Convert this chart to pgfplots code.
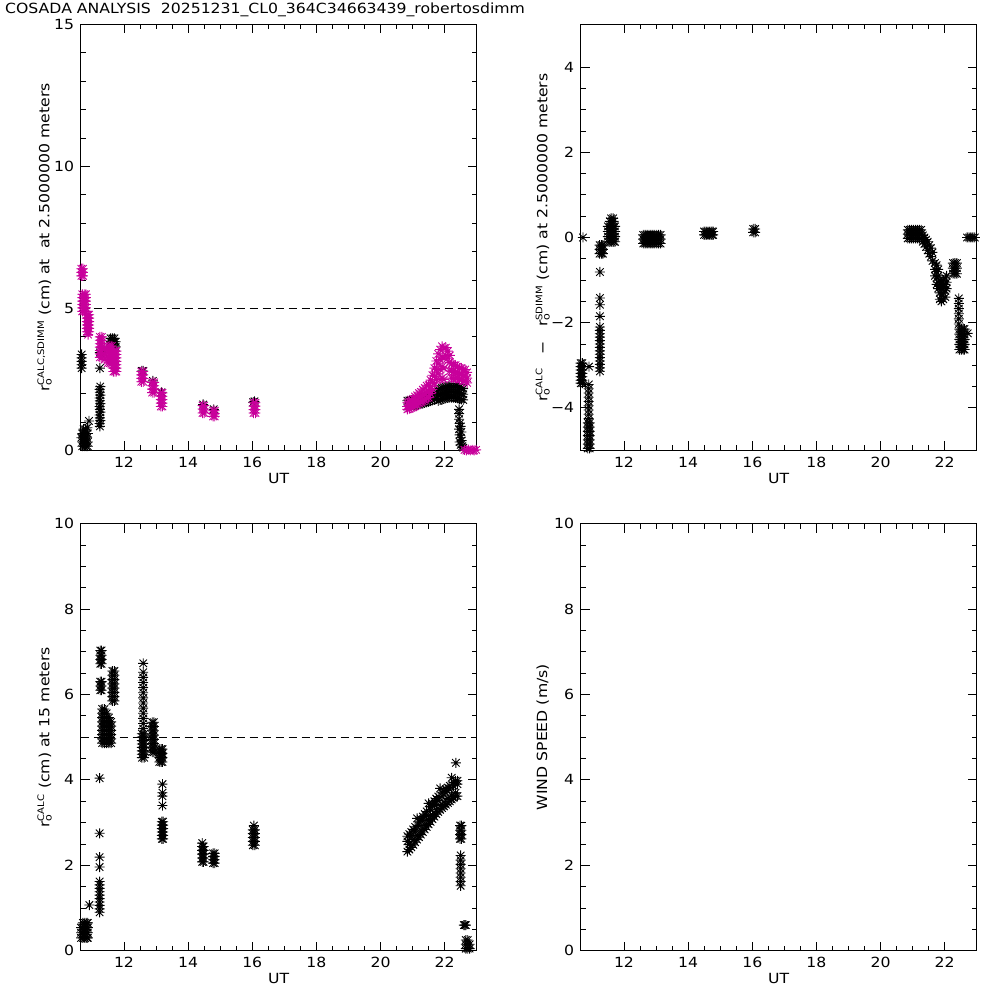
\documentclass[border=0pt]{standalone}
\usepackage{fontspec}
\setmainfont{DejaVu Sans}[FakeStretch=1.12]
\usepackage{pgfplots}
\pgfplotsset{compat=1.18}

\definecolor{cosmag}{HTML}{C8009B}

% IDL style asterisk (psym=2)
\pgfdeclareplotmark{idlast}{%
  \pgfpathmoveto{\pgfqpoint{-\pgfplotmarksize}{0pt}}%
  \pgfpathlineto{\pgfqpoint{\pgfplotmarksize}{0pt}}%
  \pgfpathmoveto{\pgfqpoint{0pt}{-\pgfplotmarksize}}%
  \pgfpathlineto{\pgfqpoint{0pt}{\pgfplotmarksize}}%
  \pgfpathmoveto{\pgfqpoint{-.75\pgfplotmarksize}{-.75\pgfplotmarksize}}%
  \pgfpathlineto{\pgfqpoint{.75\pgfplotmarksize}{.75\pgfplotmarksize}}%
  \pgfpathmoveto{\pgfqpoint{-.75\pgfplotmarksize}{.75\pgfplotmarksize}}%
  \pgfpathlineto{\pgfqpoint{.75\pgfplotmarksize}{-.75\pgfplotmarksize}}%
  \pgfusepathqstroke}

\newcommand{\ro}{r\rlap{\textsubscript{o}}}
\newcommand{\lblfont}{\fontsize{14}{16}\selectfont}
\newcommand{\supsc}[1]{\textsuperscript{\fontsize{9}{10}\selectfont #1}}

\pgfplotsset{
  idl/.style={
    scale only axis, width=396pt, height=426pt,
    xmin=10.65, xmax=23,
    xtick={12,14,...,22}, minor x tick num=3,
    tick align=inside,
    major tick length=9pt, minor tick length=5pt,
    every tick/.style={black, line width=0.8pt},
    axis line style={line width=1pt},
    tick label style={font=\lblfont},
    /pgf/number format/assume math mode=true,
    xticklabel style={yshift=-3pt},
    yticklabel style={xshift=-3pt},
    xlabel={UT},
    every axis x label/.style={at={(axis description cs:0.5,-0.066)}, anchor=center, font=\lblfont},
    every axis y label/.style={at={(axis description cs:-0.091,0.5)}, rotate=90, anchor=center, font=\lblfont},
  },
  idlpts/.style={only marks, mark=idlast, mark size=5pt, line width=0.9pt},
}

\begin{document}
\begin{tikzpicture}
\path[use as bounding box] (0pt,0pt) rectangle (1000pt,1000pt);
\node[anchor=west, inner sep=0pt, font=\lblfont] at (5pt,990pt)
  {COSADA ANALYSIS\ \ 20251231\_CL0\_364C34663439\_robertosdimm};

% ---------------- top left: r0 calc & sdimm at 2.5 m
\begin{axis}[idl, at={(80.7pt,549.5pt)}, anchor=south west,
  height=426pt, ymin=0, ymax=15, ytick={0,5,10,15}, minor y tick num=4,
  ylabel={\ro\supsc{CALC,SDIMM} (cm) at\ \ at 2.5000000 meters}]
\addplot[no marks, black, line width=0.8pt, dash pattern=on 8pt off 5pt] coordinates {(10.65,5) (23,5)};
\addplot[idlpts, black] coordinates {
 (10.64,0.15)(10.70,0.15)(10.76,0.15)(10.82,0.15)(10.87,0.15)
 (10.64,0.3)(10.70,0.3)(10.76,0.3)(10.82,0.3)(10.87,0.3)
 (10.67,0.45)(10.73,0.45)(10.79,0.45)(10.85,0.45)
 (10.70,0.6)(10.76,0.6)(10.82,0.6)(10.87,0.6)
 (10.74,0.75)(10.80,0.75)(10.86,0.8)(10.91,1.04)
 (10.64,2.9)(10.68,2.9)(10.64,3.02)(10.68,3.02)(10.64,3.14)(10.68,3.14)(10.64,3.26)(10.68,3.26)(10.64,3.38)(10.68,3.38)
 (11.25,0.85)(11.24,0.95)(11.26,1.05)(11.25,1.15)(11.24,1.25)(11.26,1.35)(11.25,1.45)(11.24,1.55)
 (11.26,1.65)(11.25,1.75)(11.24,1.85)(11.26,1.95)(11.25,2.05)(11.24,2.15)(11.26,2.25)(11.25,2.9)
 (11.25,3.45)(11.3,3.5)(11.35,3.45)
 (11.58,3.95)(11.64,3.95)(11.7,3.95)(11.58,3.83)(11.64,3.83)(11.7,3.83)(11.74,3.83)(11.58,3.71)(11.64,3.71)(11.7,3.71)(11.74,3.65)
 (12.56,2.8)(12.6,2.8)(12.9,2.45)(13.17,2.05)(14.47,1.62)(14.8,1.45)(16.07,1.73)(16.03,1.7)
 (20.84,1.75)(20.84,1.55)(20.90,1.76)(20.90,1.56)(20.96,1.77)(20.96,1.57)(21.02,1.78)(21.02,1.58)
 (21.08,1.79)(21.08,1.59)(21.14,1.8)(21.14,1.6)(21.20,1.82)(21.20,1.62)(21.26,1.84)(21.26,1.64)
 (21.32,1.86)(21.32,1.66)(21.38,1.88)(21.38,1.68)(21.44,1.9)(21.44,1.7)(21.50,1.92)(21.50,1.72)
 (21.56,1.95)(21.56,1.75)(21.62,1.98)(21.62,1.78)(21.68,2.0)(21.68,1.8)(21.74,2.03)(21.74,1.83)
 (21.80,2.15)(21.80,1.95)(21.80,1.75)(21.86,2.18)(21.86,1.98)(21.86,1.78)(21.92,2.2)(21.92,2.0)(21.92,1.8)
 (21.98,2.22)(21.98,2.02)(21.98,1.82)(22.04,2.24)(22.04,2.04)(22.04,1.84)(22.10,2.25)(22.10,2.05)(22.10,1.85)
 (22.16,2.26)(22.16,2.06)(22.16,1.86)(22.22,2.26)(22.22,2.06)(22.22,1.86)(22.28,2.26)(22.28,2.06)(22.28,1.86)
 (22.34,2.25)(22.34,2.05)(22.34,1.85)(22.40,2.24)(22.40,2.04)(22.40,1.84)(22.46,2.22)(22.46,2.02)(22.46,1.82)
 (22.52,2.2)(22.52,2.0)(22.52,1.8)(22.58,2.18)(22.58,1.98)(22.58,1.78)
 (22.45,1.45)(22.45,1.3)(22.45,1.1)(22.47,0.95)(22.5,0.85)(22.45,0.75)(22.52,0.65)(22.47,0.55)
 (22.5,0.45)(22.53,0.35)(22.47,0.3)(22.5,0.2)(22.55,0.15)(22.58,0.1)
};
\addplot[idlpts, cosmag] coordinates {
 (10.62,6.15)(10.67,6.15)(10.72,6.15)(10.62,6.27)(10.67,6.27)(10.72,6.27)(10.62,6.4)(10.67,6.4)(10.72,6.4)
 (10.70,5.5)(10.76,5.5)(10.81,5.5)(10.70,5.38)(10.76,5.38)(10.81,5.38)(10.70,5.26)(10.76,5.26)(10.81,5.26)
 (10.70,5.14)(10.76,5.14)(10.81,5.14)(10.70,5.02)(10.76,5.02)(10.81,5.02)(10.70,4.9)(10.76,4.9)(10.81,4.9)
 (10.84,4.78)(10.88,4.78)(10.91,4.78)(10.84,4.66)(10.88,4.66)(10.91,4.66)(10.84,4.54)(10.88,4.54)(10.91,4.54)
 (10.84,4.42)(10.88,4.42)(10.91,4.42)(10.84,4.3)(10.88,4.3)(10.91,4.3)(10.84,4.18)(10.88,4.18)(10.91,4.18)(10.88,4.08)
 (11.25,4.0)(11.31,4.0)(11.25,3.88)(11.31,3.88)(11.25,3.76)(11.31,3.76)(11.25,3.64)(11.31,3.64)
 (11.25,3.52)(11.31,3.52)(11.25,3.4)(11.31,3.4)(11.25,3.28)(11.31,3.28)
 (11.4,3.6)(11.4,3.4)(11.4,3.2)
 (11.5,3.68)(11.56,3.68)(11.62,3.68)(11.5,3.56)(11.56,3.56)(11.62,3.56)(11.5,3.44)(11.56,3.44)(11.62,3.44)
 (11.5,3.32)(11.56,3.32)(11.62,3.32)(11.5,3.2)(11.56,3.2)(11.62,3.2)(11.5,3.08)(11.56,3.08)(11.62,3.08)
 (11.67,3.5)(11.72,3.5)(11.76,3.5)(11.67,3.38)(11.72,3.38)(11.76,3.38)(11.67,3.26)(11.72,3.26)(11.76,3.26)
 (11.67,3.14)(11.72,3.14)(11.76,3.14)(11.67,3.02)(11.72,3.02)(11.76,3.02)(11.67,2.9)(11.72,2.9)(11.76,2.9)
 (11.67,2.78)(11.72,2.78)(11.76,2.78)
 (12.54,2.78)(12.6,2.78)(12.54,2.66)(12.6,2.66)(12.54,2.54)(12.6,2.54)(12.54,2.42)(12.6,2.42)
 (12.88,2.4)(12.94,2.4)(12.88,2.28)(12.94,2.28)(12.88,2.16)(12.94,2.16)(12.88,2.04)(12.94,2.04)
 (13.15,2.03)(13.2,2.03)(13.15,1.91)(13.2,1.91)(13.15,1.79)(13.2,1.79)(13.15,1.67)(13.2,1.67)(13.15,1.55)(13.2,1.55)
 (14.45,1.58)(14.5,1.58)(14.45,1.46)(14.5,1.46)(14.45,1.32)(14.5,1.32)
 (14.78,1.4)(14.83,1.4)(14.78,1.3)(14.83,1.3)(14.78,1.2)(14.83,1.2)
 (16.04,1.68)(16.1,1.68)(16.04,1.56)(16.1,1.56)(16.04,1.44)(16.1,1.44)(16.04,1.32)(16.1,1.32)
 (20.84,1.68)(20.84,1.55)(20.84,1.45)(20.90,1.72)(20.90,1.58)(20.90,1.47)(20.96,1.78)(20.96,1.62)(20.96,1.5)
 (21.02,1.82)(21.02,1.66)(21.02,1.52)(21.08,1.9)(21.08,1.72)(21.08,1.56)(21.14,1.94)(21.14,1.76)(21.14,1.6)
 (21.20,2.02)(21.20,1.84)(21.20,1.66)(21.26,2.06)(21.26,1.88)(21.26,1.7)(21.32,2.14)(21.32,1.94)(21.32,1.74)
 (21.38,2.2)(21.38,1.98)(21.38,1.78)(21.44,2.28)(21.44,2.06)(21.44,1.84)(21.50,2.3)(21.50,2.08)(21.50,1.86)
 (21.56,2.48)(21.56,2.25)(21.56,2.0)(21.62,2.65)(21.62,2.4)(21.62,2.15)(21.68,2.9)(21.68,2.62)(21.68,2.35)
 (21.74,3.15)(21.74,2.85)(21.74,2.5)(21.80,3.4)(21.80,3.05)(21.80,2.7)
 (21.86,3.55)(21.86,3.2)(21.86,2.85)(21.86,2.5)(21.92,3.67)(21.92,3.3)(21.92,2.95)(21.92,2.55)
 (21.98,3.6)(21.98,3.25)(21.98,2.9)(21.98,2.5)(22.04,3.62)(22.04,3.35)(22.10,3.5)(22.10,3.25)
 (22.16,3.35)(22.16,3.1)(22.16,2.8)(22.22,3.05)(22.22,2.8)(22.22,2.55)(22.28,3.0)(22.28,2.78)(22.28,2.55)
 (22.34,3.0)(22.34,2.75)(22.34,2.55)(22.40,2.95)(22.40,2.75)(22.40,2.55)(22.46,2.9)(22.46,2.7)(22.46,2.5)
 (22.52,2.9)(22.52,2.68)(22.52,2.5)(22.58,2.85)(22.58,2.65)(22.58,2.45)(22.64,2.85)(22.64,2.62)(22.64,2.45)
 (22.70,2.75)(22.70,2.55)(22.70,2.38)
 (22.62,0.02)(22.68,0.0)(22.74,0.03)(22.8,0.0)(22.86,0.02)(22.92,0.0)(22.98,0.02)
};
\end{axis}

% ---------------- top right: difference
\begin{axis}[idl, at={(580.7pt,549.5pt)}, anchor=south west,
  height=426pt, ymin=-5, ymax=5, ytick={-4,-2,0,2,4}, yticklabels={−4,−2,0,2,4}, minor y tick num=3,
  every axis y label/.style={at={(axis description cs:-0.096,0.5)}, rotate=90, anchor=center, font=\lblfont},
  ylabel={\ro\supsc{CALC}\quad −\quad \ro\supsc{SDIMM} (cm) at 2.5000000 meters}]
\addplot[idlpts, black] coordinates {
 (10.72,0.0)
 (10.65,-2.95)(10.7,-2.95)(10.65,-3.03)(10.7,-3.03)(10.65,-3.11)(10.7,-3.11)(10.65,-3.19)(10.7,-3.19)
 (10.65,-3.27)(10.7,-3.27)(10.65,-3.35)(10.7,-3.35)(10.65,-3.42)(10.7,-3.42)
 (10.91,-3.03)(10.9,-3.45)(10.9,-3.55)(10.9,-3.65)(10.9,-3.75)(10.9,-3.85)(10.9,-3.95)(10.9,-4.05)(10.9,-4.15)(10.9,-4.25)
 (10.87,-4.35)(10.93,-4.35)(10.87,-4.45)(10.93,-4.45)(10.87,-4.55)(10.93,-4.55)(10.87,-4.65)(10.93,-4.65)
 (10.87,-4.75)(10.93,-4.75)(10.87,-4.85)(10.93,-4.85)(10.87,-4.95)(10.93,-4.95)
 (11.25,-0.81)(11.25,-1.42)(11.25,-1.58)(11.25,-1.85)
 (11.25,-2.1)(11.25,-2.18)(11.25,-2.26)(11.25,-2.34)(11.25,-2.42)(11.25,-2.5)(11.25,-2.58)(11.25,-2.66)
 (11.25,-2.74)(11.25,-2.82)(11.25,-2.9)(11.25,-2.98)(11.25,-3.06)(11.25,-3.14)
 (11.24,-0.18)(11.3,-0.18)(11.34,-0.18)(11.24,-0.28)(11.3,-0.28)(11.34,-0.28)(11.24,-0.38)(11.3,-0.38)(11.34,-0.38)
 (11.5,-0.1)(11.56,-0.1)(11.62,-0.1)(11.68,-0.1)(11.72,-0.1)
 (11.5,0.02)(11.56,0.02)(11.62,0.02)(11.68,0.02)(11.72,0.02)
 (11.5,0.14)(11.56,0.14)(11.62,0.14)(11.68,0.14)(11.72,0.14)
 (11.5,0.26)(11.56,0.26)(11.62,0.26)(11.68,0.26)(11.72,0.26)
 (11.56,0.38)(11.62,0.38)(11.68,0.38)(11.6,0.45)(11.66,0.45)
 (12.6,-0.14)(12.66,-0.14)(12.72,-0.14)(12.78,-0.14)(12.84,-0.14)(12.9,-0.14)(12.96,-0.14)(13.02,-0.14)(13.08,-0.14)(13.14,-0.14)
 (12.6,-0.04)(12.66,-0.04)(12.72,-0.04)(12.78,-0.04)(12.84,-0.04)(12.9,-0.04)(12.96,-0.04)(13.02,-0.04)(13.08,-0.04)(13.14,-0.04)
 (12.6,0.06)(12.66,0.06)(12.72,0.06)(12.78,0.06)(12.84,0.06)(12.9,0.06)(12.96,0.06)(13.02,0.06)(13.08,0.06)(13.14,0.06)
 (14.5,0.06)(14.56,0.06)(14.62,0.06)(14.68,0.06)(14.74,0.06)(14.78,0.06)
 (14.5,0.14)(14.56,0.14)(14.62,0.14)(14.68,0.14)(14.74,0.14)(14.78,0.14)
 (16.03,0.12)(16.09,0.12)(16.03,0.2)(16.09,0.2)
 (20.85,-0.02)(20.91,-0.02)(20.97,-0.02)(21.03,-0.02)(21.09,-0.02)(21.15,-0.02)(21.21,-0.02)(21.27,-0.02)
 (20.85,0.08)(20.91,0.08)(20.97,0.08)(21.03,0.08)(21.09,0.08)(21.15,0.08)(21.21,0.08)(21.27,0.08)
 (20.85,0.18)(20.91,0.18)(20.97,0.18)(21.03,0.18)(21.09,0.18)(21.15,0.18)(21.21,0.18)(21.27,0.18)
 (21.32,0.05)(21.32,-0.1)(21.37,0.0)(21.37,-0.15)(21.42,-0.05)(21.42,-0.22)(21.47,-0.1)(21.47,-0.3)
 (21.52,-0.18)(21.52,-0.38)(21.57,-0.25)(21.57,-0.45)(21.62,-0.35)(21.62,-0.55)
 (21.7,-0.6)(21.7,-0.75)(21.7,-0.9)(21.75,-0.65)(21.75,-0.8)(21.75,-0.95)(21.75,-1.1)
 (21.8,-0.75)(21.8,-0.9)(21.8,-1.05)(21.8,-1.2)
 (21.85,-1.0)(21.85,-1.15)(21.85,-1.3)(21.85,-1.45)(21.9,-1.05)(21.9,-1.2)(21.9,-1.35)(21.9,-1.5)
 (21.96,-1.0)(21.96,-1.15)(21.96,-1.3)(21.96,-1.45)(22.02,-0.95)(22.02,-1.1)(22.02,-1.25)(22.02,-1.4)
 (22.06,-0.9)(22.06,-1.05)(22.06,-1.2)
 (22.26,-0.6)(22.32,-0.6)(22.38,-0.6)(22.26,-0.72)(22.32,-0.72)(22.38,-0.72)(22.26,-0.85)(22.32,-0.85)(22.38,-0.85)
 (22.44,-1.43)(22.44,-1.55)(22.44,-1.67)(22.44,-1.79)(22.44,-1.91)(22.44,-2.03)
 (22.46,-2.15)(22.52,-2.15)(22.58,-2.15)(22.62,-2.15)(22.46,-2.27)(22.52,-2.27)(22.58,-2.27)(22.62,-2.27)
 (22.46,-2.39)(22.52,-2.39)(22.58,-2.39)(22.62,-2.39)(22.46,-2.51)(22.52,-2.51)(22.58,-2.51)(22.62,-2.51)
 (22.46,-2.63)(22.52,-2.63)(22.58,-2.63)(22.62,-2.63)(22.72,-2.25)
 (22.7,0.0)(22.76,0.0)(22.82,0.0)(22.88,0.0)(22.94,0.0)
};
\end{axis}

% ---------------- bottom left: r0 calc at 15 m
\begin{axis}[idl, at={(80.7pt,49.3pt)}, anchor=south west,
  height=427pt, ymin=0, ymax=10, ytick={0,2,...,10}, minor y tick num=3,
  ylabel={\ro\supsc{CALC} (cm) at 15 meters}]
\addplot[no marks, black, line width=0.8pt, dash pattern=on 8pt off 5pt] coordinates {(10.65,5) (23,5)};
\addplot[idlpts, black] coordinates {
 (10.66,0.3)(10.72,0.3)(10.78,0.3)(10.84,0.3)(10.87,0.3)(10.66,0.42)(10.72,0.42)(10.78,0.42)(10.84,0.42)(10.87,0.42)
 (10.66,0.54)(10.72,0.54)(10.78,0.54)(10.84,0.54)(10.87,0.54)(10.72,0.65)(10.78,0.65)(10.84,0.65)(10.87,0.65)(10.92,1.07)
 (11.24,0.9)(11.24,0.98)(11.24,1.06)(11.24,1.14)(11.24,1.22)(11.24,1.3)(11.24,1.38)(11.24,1.46)(11.24,1.54)(11.24,1.62)
 (11.24,1.96)(11.24,2.19)(11.24,2.75)(11.24,4.04)
 (11.26,6.72)(11.3,6.72)(11.26,6.82)(11.3,6.82)(11.26,6.92)(11.3,6.92)(11.26,7.03)(11.3,7.03)
 (11.26,6.1)(11.3,6.1)(11.26,6.2)(11.3,6.2)(11.26,6.3)(11.3,6.3)
 (11.32,4.86)(11.39,4.86)(11.46,4.86)(11.53,4.86)(11.6,4.86)(11.32,4.96)(11.39,4.96)(11.46,4.96)(11.53,4.96)(11.6,4.96)
 (11.32,5.06)(11.39,5.06)(11.46,5.06)(11.53,5.06)(11.6,5.06)(11.32,5.16)(11.39,5.16)(11.46,5.16)(11.53,5.16)(11.6,5.16)
 (11.32,5.26)(11.39,5.26)(11.46,5.26)(11.53,5.26)(11.6,5.26)(11.32,5.36)(11.39,5.36)(11.46,5.36)(11.53,5.36)(11.6,5.36)
 (11.32,5.46)(11.39,5.46)(11.46,5.46)(11.53,5.46)(11.32,5.56)(11.39,5.56)(11.46,5.56)(11.32,5.66)(11.39,5.66)
 (11.64,5.85)(11.7,5.85)(11.64,5.95)(11.7,5.95)(11.64,6.05)(11.7,6.05)(11.64,6.15)(11.7,6.15)
 (11.64,6.25)(11.7,6.25)(11.64,6.35)(11.7,6.35)(11.64,6.45)(11.7,6.45)(11.64,6.55)(11.7,6.55)
 (12.6,5.2)(12.6,5.32)(12.6,5.44)(12.6,5.56)(12.6,5.68)(12.6,5.8)(12.6,5.92)(12.6,6.04)(12.6,6.16)(12.6,6.28)(12.6,6.4)(12.6,6.52)(12.6,6.73)
 (12.56,4.52)(12.63,4.52)(12.56,4.6)(12.63,4.6)(12.56,4.68)(12.63,4.68)(12.56,4.76)(12.63,4.76)
 (12.56,4.84)(12.63,4.84)(12.56,4.92)(12.63,4.92)(12.56,5.0)(12.63,5.0)(12.56,5.08)(12.63,5.08)
 (12.88,4.65)(12.93,4.65)(12.88,4.75)(12.93,4.75)(12.88,4.85)(12.93,4.85)(12.88,4.95)(12.93,4.95)
 (12.88,5.05)(12.93,5.05)(12.88,5.15)(12.93,5.15)(12.88,5.25)(12.93,5.25)(12.88,5.35)(12.93,5.35)
 (13.1,4.42)(13.16,4.42)(13.2,4.42)(13.1,4.52)(13.16,4.52)(13.2,4.52)(13.1,4.62)(13.16,4.62)(13.2,4.62)(13.1,4.72)(13.16,4.72)(13.2,4.72)
 (13.2,3.9)(13.2,3.7)(13.2,3.62)(13.2,3.4)
 (13.18,2.62)(13.22,2.62)(13.18,2.7)(13.22,2.7)(13.18,2.78)(13.22,2.78)(13.18,2.86)(13.22,2.86)(13.18,2.94)(13.22,2.94)(13.18,3.02)(13.22,3.02)
 (14.44,2.08)(14.48,2.08)(14.44,2.17)(14.48,2.17)(14.44,2.26)(14.48,2.26)(14.44,2.35)(14.48,2.35)(14.44,2.44)(14.48,2.44)(14.44,2.52)
 (14.78,2.05)(14.83,2.05)(14.78,2.13)(14.83,2.13)(14.78,2.21)(14.83,2.21)(14.78,2.28)(14.83,2.28)
 (16.02,2.47)(16.08,2.47)(16.02,2.56)(16.08,2.56)(16.02,2.65)(16.08,2.65)(16.02,2.74)(16.08,2.74)(16.02,2.83)(16.08,2.83)(16.05,2.93)
 (20.84,2.68)(20.84,2.56)(20.84,2.32)(20.9,2.73)(20.9,2.49)(20.9,2.37)(20.96,2.78)(20.96,2.68)(20.96,2.42)
 (21.02,2.84)(21.02,2.6)(21.02,2.48)(21.08,2.9)(21.08,2.8)(21.08,2.54)(21.14,3.1)(21.14,2.7)(21.14,2.6)
 (21.2,3.02)(21.2,2.93)(21.2,2.66)(21.26,3.08)(21.26,2.82)(21.26,2.72)(21.32,3.14)(21.32,3.05)(21.32,2.78)
 (21.38,3.2)(21.38,2.95)(21.38,2.84)(21.44,3.26)(21.44,3.17)(21.44,2.9)(21.5,3.45)(21.5,3.06)(21.5,2.96)
 (21.56,3.38)(21.56,3.3)(21.56,3.02)(21.62,3.44)(21.62,3.18)(21.62,3.08)(21.68,3.5)(21.68,3.42)(21.68,3.14)
 (21.74,3.56)(21.74,3.3)(21.74,3.2)(21.8,3.61)(21.8,3.52)(21.8,3.25)(21.86,3.8)(21.86,3.4)(21.86,3.3)
 (21.92,3.7)(21.92,3.62)(21.92,3.34)(21.98,3.74)(21.98,3.48)(21.98,3.38)(22.04,3.78)(22.04,3.7)(22.04,3.42)
 (22.1,3.82)(22.1,3.56)(22.1,3.46)(22.16,3.86)(22.16,3.78)(22.16,3.5)(22.22,4.05)(22.22,3.64)(22.22,3.54)
 (22.28,3.94)(22.28,3.86)(22.28,3.58)(22.34,3.98)(22.34,3.7)(22.34,3.62)(22.4,3.98)(22.4,3.9)(22.4,3.62)(22.35,4.4)
 (22.48,2.62)(22.52,2.62)(22.48,2.72)(22.52,2.72)(22.48,2.82)(22.52,2.82)(22.48,2.93)(22.52,2.93)
 (22.5,1.52)(22.5,1.62)(22.5,1.72)(22.5,1.82)(22.5,1.92)(22.5,2.02)(22.5,2.12)(22.5,2.23)
 (22.6,0.6)(22.63,0.6)(22.66,0.6)(22.66,0.05)(22.72,0.05)(22.78,0.05)(22.66,0.15)(22.72,0.15)(22.78,0.15)(22.66,0.25)(22.72,0.25)
};
\end{axis}

% ---------------- bottom right: wind speed (no data)
\begin{axis}[idl, at={(580.7pt,49.3pt)}, anchor=south west,
  height=427pt, ymin=0, ymax=10, ytick={0,2,...,10}, minor y tick num=3,
  every axis y label/.style={at={(axis description cs:-0.096,0.5)}, rotate=90, anchor=center, font=\lblfont},
  ylabel={WIND SPEED (m/s)}]
\end{axis}
\end{tikzpicture}
\end{document}
